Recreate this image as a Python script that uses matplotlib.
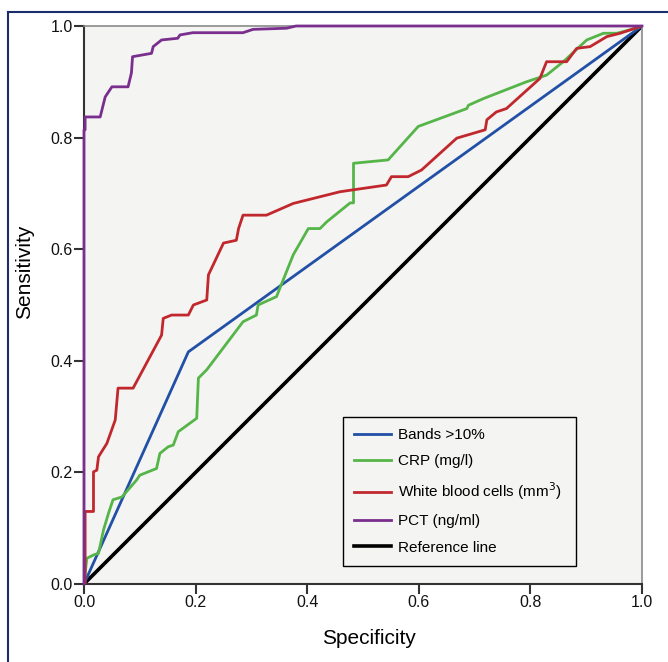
import matplotlib
matplotlib.use("Agg")
import matplotlib.pyplot as plt
from matplotlib.lines import Line2D

plt.rcParams["font.family"] = ["Liberation Sans", "DejaVu Sans"]

# ROC curves: (1 - specificity axis shown as "Specificity")
bands_x = [0.0, 0.187, 1.0]
bands_y = [0.0, 0.416, 1.0]

crp_x = [0.0, 0.005, 0.017, 0.026, 0.035, 0.044, 0.052, 0.068, 0.094, 0.100,
         0.130, 0.136, 0.151, 0.160, 0.169, 0.202, 0.205, 0.220, 0.285, 0.309,
         0.312, 0.345, 0.375, 0.402, 0.423, 0.435, 0.477, 0.483, 0.483, 0.545,
         0.599, 0.686, 0.689, 0.716, 0.793, 0.829, 0.859, 0.901, 0.931, 0.955,
         0.978, 1.0]
crp_y = [0.0, 0.046, 0.052, 0.055, 0.097, 0.127, 0.151, 0.156, 0.186, 0.195,
         0.207, 0.234, 0.246, 0.249, 0.273, 0.297, 0.369, 0.384, 0.470, 0.482,
         0.500, 0.515, 0.590, 0.637, 0.637, 0.649, 0.683, 0.683, 0.754, 0.760,
         0.820, 0.852, 0.858, 0.870, 0.900, 0.912, 0.936, 0.975, 0.987, 0.987,
         0.993, 1.0]

wbc_x = [0.0, 0.002, 0.002, 0.017, 0.017, 0.023, 0.026, 0.041, 0.056, 0.061,
         0.088, 0.139, 0.142, 0.157, 0.187, 0.196, 0.220, 0.223, 0.250, 0.273,
         0.277, 0.285, 0.327, 0.375, 0.423, 0.459, 0.542, 0.551, 0.581, 0.605,
         0.668, 0.719, 0.722, 0.739, 0.757, 0.817, 0.829, 0.865, 0.883, 0.907,
         0.937, 0.961, 1.0]
wbc_y = [0.0, 0.0, 0.130, 0.130, 0.201, 0.204, 0.228, 0.252, 0.294, 0.351,
         0.351, 0.446, 0.476, 0.482, 0.482, 0.500, 0.509, 0.554, 0.611, 0.616,
         0.637, 0.661, 0.661, 0.682, 0.694, 0.703, 0.715, 0.730, 0.730, 0.742,
         0.799, 0.814, 0.832, 0.846, 0.852, 0.906, 0.936, 0.936, 0.960, 0.963,
         0.981, 0.987, 1.0]

pct_x = [0.0, 0.0, 0.002, 0.002, 0.029, 0.038, 0.050, 0.079, 0.085, 0.087,
         0.121, 0.124, 0.139, 0.168, 0.172, 0.195, 0.285, 0.303, 0.363, 0.38,
         1.0]
pct_y = [0.0, 0.814, 0.814, 0.837, 0.837, 0.873, 0.891, 0.891, 0.916, 0.945,
         0.951, 0.963, 0.975, 0.978, 0.984, 0.988, 0.988, 0.994, 0.996, 1.0,
         1.0]

ref_x = [0.0, 1.0]
ref_y = [0.0, 1.0]

labels = ["Bands >10%", "CRP (mg/l)", "White blood cells (mm$^3$)",
          "PCT (ng/ml)", "Reference line"]
colors = ["#2150a6", "#55b548", "#c1282e", "#7a2e8e", "#000000"]
ticks = [0, 0.2, 0.4, 0.6, 0.8, 1.0]
tick_labels = ["0.0", "0.2", "0.4", "0.6", "0.8", "1.0"]

fig = plt.figure(figsize=(6.68, 6.62), dpi=100)
ax = fig.add_axes([84 / 668, 1 - 584 / 662, 558 / 668, 558 / 662])
ax.set_facecolor("#f4f4f2")

ax.plot(ref_x, ref_y, color=colors[4], lw=2.6, zorder=2)
ax.plot(bands_x, bands_y, color=colors[0], lw=2.0, zorder=3)
ax.plot(crp_x, crp_y, color=colors[1], lw=2.0, zorder=4)
ax.plot(wbc_x, wbc_y, color=colors[2], lw=2.0, zorder=5)
ax.plot(pct_x, pct_y, color=colors[3], lw=2.0, zorder=6, clip_on=False)

ax.set_xlim(0, 1)
ax.set_ylim(0, 1)
ax.set_xticks(ticks)
ax.set_yticks(ticks)
ax.set_xticklabels(tick_labels)
ax.set_yticklabels(tick_labels)
ax.tick_params(direction="out", length=7, width=1.5, colors="#333333",
               labelsize=11.5, labelcolor="#111111", pad=1)

for side in ["left", "bottom"]:
    ax.spines[side].set_color("#333333")
    ax.spines[side].set_linewidth(1.5)
for side in ["top", "right"]:
    ax.spines[side].set_color("#8a8a8a")
    ax.spines[side].set_linewidth(1.2)

ax.set_xlabel("Specificity", fontsize=15)
ax.set_ylabel("Sensitivity", fontsize=15)
ax.xaxis.set_label_coords(0.51, -0.097)
ax.yaxis.set_label_coords(-0.106, 0.56)
ax.xaxis.label.set_va("center")
ax.yaxis.label.set_va("center")

handles = [Line2D([0], [0], color=c, lw=2.6 if c == "#000000" else 2.0)
           for c in colors]
leg = ax.legend(handles, labels, loc="lower left",
                bbox_to_anchor=(0.464, 0.032, 0.418, 0.265), mode="expand",
                fontsize=11, frameon=True, fancybox=False, handlelength=2.4,
                handletextpad=0.45, borderpad=0.75, labelspacing=0.8,
                borderaxespad=0)
leg.get_frame().set_edgecolor("#000000")
leg.get_frame().set_linewidth(1.0)
leg.get_frame().set_facecolor("#f4f4f2")
leg.get_frame().set_alpha(1)

# outer blue frame (only top and left edges visible in the crop)
fy = 1 - 12 / 662
fx = 8 / 668
fig.add_artist(Line2D([fx, fx], [0, fy], transform=fig.transFigure,
                      color="#1c2d6e", lw=1.5))
fig.add_artist(Line2D([fx, 1], [fy, fy], transform=fig.transFigure,
                      color="#1c2d6e", lw=1.5))

fig.savefig("out.png", dpi=100)
